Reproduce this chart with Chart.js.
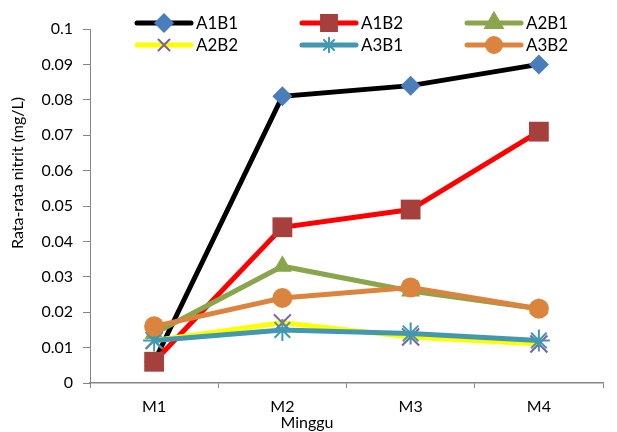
<!DOCTYPE html>
<html>
<head>
<meta charset="utf-8">
<script src="https://cdn.jsdelivr.net/npm/chart.js@4"></script>
<style>
  body { margin: 0; background: #fff; }
  #wrap { width: 617px; height: 432px; position: relative; }
</style>
</head>
<body>
<div id="wrap"><canvas id="nitritChart"></canvas></div>
<script>
// Chart data
const weeks = ["M1", "M2", "M3", "M4"];
const seriesNames = ["A1B1", "A1B2", "A2B1", "A2B2", "A3B1", "A3B2"];
const a1b1 = [0.006, 0.081, 0.084, 0.09];
const a1b2 = [0.006, 0.044, 0.049, 0.071];
const a2b1 = [0.014, 0.033, 0.026, 0.021];
const a2b2 = [0.012, 0.017, 0.013, 0.011];
const a3b1 = [0.012, 0.015, 0.014, 0.012];
const a3b2 = [0.016, 0.024, 0.027, 0.021];
const yTicks = [0, 0.01, 0.02, 0.03, 0.04, 0.05, 0.06, 0.07, 0.08, 0.09, 0.1];

const FONT = "Lato, 'Open Sans', sans-serif";
Chart.defaults.color = "#000";
Chart.defaults.font.family = FONT;

// line colour, marker style, marker fill, marker radius
const styles = [
  { line: "#000000", point: "rectRot", fill: "#4a7ebb", radius: 10 },
  { line: "#ff0000", point: "rect", fill: "#a5403d", radius: 14 },
  { line: "#8aa54b", point: "triangle", fill: "#8aa54b", radius: 11 },
  { line: "#ffff00", point: "crossRot", fill: "#7d5fa0", radius: 12 },
  { line: "#4198af", point: "star", fill: "#4198af", radius: 11 },
  { line: "#db843d", point: "circle", fill: "#db843d", radius: 10 },
];
const values = [a1b1, a1b2, a2b1, a2b2, a3b1, a3b2];

const datasets = values.map((data, i) => {
  const s = styles[i];
  return {
    label: seriesNames[i],
    data: data,
    borderColor: s.line,
    borderWidth: 5,
    tension: 0,
    pointStyle: s.point,
    pointRadius: s.radius,
    pointHoverRadius: s.radius,
    pointBackgroundColor: s.fill,
    pointBorderColor: s.fill,
    pointBorderWidth: s.point === "crossRot" || s.point === "star" ? 2 : 0,
    order: values.length - 1 - i, // later series on top, like the original
  };
});

// Legend in two rows drawn over the plot, plus the two axis titles
const overlayPlugin = {
  id: "overlay",
  afterDraw(chart) {
    const ctx = chart.ctx;
    const colX = [137, 302, 467];
    const rowY = [23, 45];
    ctx.save();
    seriesNames.forEach((name, i) => {
      const s = styles[i];
      const x = colX[i % 3];
      const y = rowY[Math.floor(i / 3)];
      ctx.strokeStyle = s.line;
      ctx.lineWidth = 5;
      ctx.lineCap = "round";
      ctx.beginPath();
      ctx.moveTo(x, y);
      ctx.lineTo(x + 54, y);
      ctx.stroke();
      ctx.fillStyle = s.fill;
      ctx.strokeStyle = s.fill;
      ctx.lineWidth = s.point === "crossRot" || s.point === "star" ? 2 : 0;
      Chart.helpers.drawPoint(ctx, {
        pointStyle: s.point,
        radius: s.radius * 0.65,
        rotation: 0,
        borderWidth: ctx.lineWidth,
      }, x + 27, y);
      ctx.fillStyle = "#000";
      ctx.font = "17px " + FONT;
      ctx.textBaseline = "middle";
      ctx.textAlign = "left";
      ctx.fillText(name, x + 59, y + 1);
    });

    // axis titles
    ctx.font = "16px " + FONT;
    ctx.fillStyle = "#000";
    ctx.textAlign = "center";
    ctx.textBaseline = "middle";
    ctx.fillText("Minggu", 307, 423);
    ctx.translate(18, 173);
    ctx.rotate(-Math.PI / 2);
    ctx.font = "16px " + FONT;
    ctx.fillText("Rata-rata nitrit (mg/L)", 0, 0);
    ctx.restore();
  },
};

new Chart(document.getElementById("nitritChart"), {
  type: "line",
  data: { labels: weeks, datasets: datasets },
  options: {
    responsive: true,
    maintainAspectRatio: false,
    animation: false,
    layout: { padding: { top: 29, right: 3, left: 0, bottom: 0 } },
    plugins: {
      legend: { display: false },
      tooltip: { enabled: false },
    },
    scales: {
      x: {
        offset: true,
        grid: {
          offset: true,
          drawOnChartArea: false,
          drawTicks: true,
          tickLength: 5,
          color: "#868686",
        },
        border: { color: "#868686", width: 1.5 },
        ticks: { font: { size: 16 }, padding: 9, color: "#000" },
        afterFit(scale) {
          scale.height = 49;
        },
      },
      y: {
        min: 0,
        max: 0.1,
        afterBuildTicks(scale) {
          scale.ticks = yTicks.map((v) => ({ value: v }));
        },
        grid: {
          drawOnChartArea: false,
          drawTicks: true,
          tickLength: 7,
          color: "#868686",
        },
        border: { color: "#868686", width: 1 },
        ticks: {
          font: { size: 16 },
          padding: 10,
          color: "#000",
          callback: (v) => String(Number(v.toFixed(2))),
        },
        afterFit(scale) {
          scale.width = 90;
        },
      },
    },
  },
  plugins: [overlayPlugin],
});
</script>
</body>
</html>
